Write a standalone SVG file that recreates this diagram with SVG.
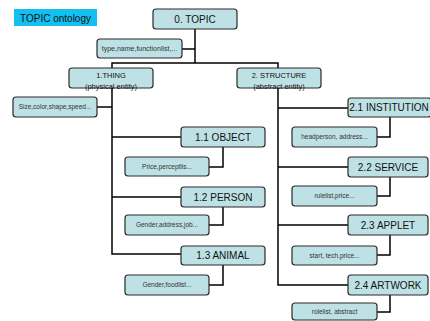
<svg xmlns="http://www.w3.org/2000/svg" width="430" height="321" viewBox="0 0 430 321">
<style>
.n{fill:#bde1e4;stroke:#2a2a2a;stroke-width:1.2}
.t{font-family:"Liberation Sans",Arial,sans-serif;fill:#111;text-anchor:middle}
.big{font-size:10px}
.sm{font-size:6.5px;fill:#333}
.md{font-size:7.5px}
.c{fill:none;stroke:#000;stroke-width:1.5}
</style>
<rect width="430" height="321" fill="#fff"/>
<g id="title">
<rect x="14" y="9" width="83" height="17" fill="#14c0f0"/>
<text class="t" x="55.5" y="21.5" style="font-size:10px">TOPIC ontology</text>
</g>
<g id="connectors">
<path class="c" d="M195 29V63M182 49H195M112 68V63H278V68"/>
<path class="c" d="M112 88V254H181M97 107H112M112 137H181M112 197H181"/>
<path class="c" d="M223 147V167H209M223 207V225H209M223 265V285H209"/>
<path class="c" d="M278 88V285H348M278 108H348M278 167H348M278 225H348"/>
<path class="c" d="M390 117V137H377M390 177V196H377M390 235V255H377M390 295V312H377"/>
</g>
<g id="topic"><rect class="n" x="153" y="9" width="84" height="20" rx="3"/><text class="t big" x="195" y="23">0. TOPIC</text></g>
<g id="topic-attr"><rect class="n" x="97" y="39" width="85" height="19" rx="3"/><text class="t" x="139.5" y="51" style="font-size:7px;fill:#333">type,name,functionlist,...</text></g>
<g id="thing"><rect class="n" x="69" y="68" width="84" height="20" rx="3"/><text class="t md" x="111" y="78">1.THING</text><text class="t md" x="111" y="89">(physical entity)</text></g>
<g id="structure"><rect class="n" x="237" y="68" width="84" height="20" rx="3"/><text class="t md" x="279" y="78">2. STRUCTURE</text><text class="t md" x="279" y="89">(abstract entity)</text></g>
<g id="thing-attr"><rect class="n" x="13" y="97" width="84" height="20" rx="3"/><text class="t sm" x="55" y="109">Size,color,shape,speed...</text></g>
<g id="object"><rect class="n" x="181" y="127" width="84" height="20" rx="3"/><text class="t big" x="223" y="141">1.1 OBJECT</text></g>
<g id="object-attr"><rect class="n" x="125" y="157" width="84" height="19" rx="3"/><text class="t sm" x="167" y="169">Price,perceptlis...</text></g>
<g id="person"><rect class="n" x="181" y="187" width="84" height="20" rx="3"/><text class="t big" x="223" y="201">1.2 PERSON</text></g>
<g id="person-attr"><rect class="n" x="125" y="215" width="84" height="20" rx="3"/><text class="t sm" x="167" y="227">Gender,address,job...</text></g>
<g id="animal"><rect class="n" x="181" y="246" width="84" height="19" rx="3"/><text class="t big" x="223" y="259">1.3 ANIMAL</text></g>
<g id="animal-attr"><rect class="n" x="125" y="275" width="84" height="20" rx="3"/><text class="t sm" x="167" y="287">Gender,foodlist...</text></g>
<g id="institution"><rect class="n" x="348" y="98" width="83" height="19" rx="3"/><text class="t big" x="389" y="111">2.1 INSTITUTION</text></g>
<g id="institution-attr"><rect class="n" x="292" y="127" width="85" height="20" rx="3"/><text class="t sm" x="334.5" y="139">headperson, address...</text></g>
<g id="service"><rect class="n" x="348" y="157" width="80" height="20" rx="3"/><text class="t big" x="388" y="171">2.2 SERVICE</text></g>
<g id="service-attr"><rect class="n" x="292" y="186" width="85" height="20" rx="3"/><text class="t sm" x="334.5" y="198">rulelist,price...</text></g>
<g id="applet"><rect class="n" x="348" y="215" width="80" height="20" rx="3"/><text class="t big" x="388" y="229">2.3 APPLET</text></g>
<g id="applet-attr"><rect class="n" x="292" y="246" width="85" height="19" rx="3"/><text class="t sm" x="334.5" y="258">start, tech,price...</text></g>
<g id="artwork"><rect class="n" x="348" y="275" width="80" height="20" rx="3"/><text class="t big" x="388" y="289">2.4 ARTWORK</text></g>
<g id="artwork-attr"><rect class="n" x="292" y="303" width="85" height="17" rx="3"/><text class="t sm" x="334.5" y="314">rolelist, abstract</text></g>
</svg>
